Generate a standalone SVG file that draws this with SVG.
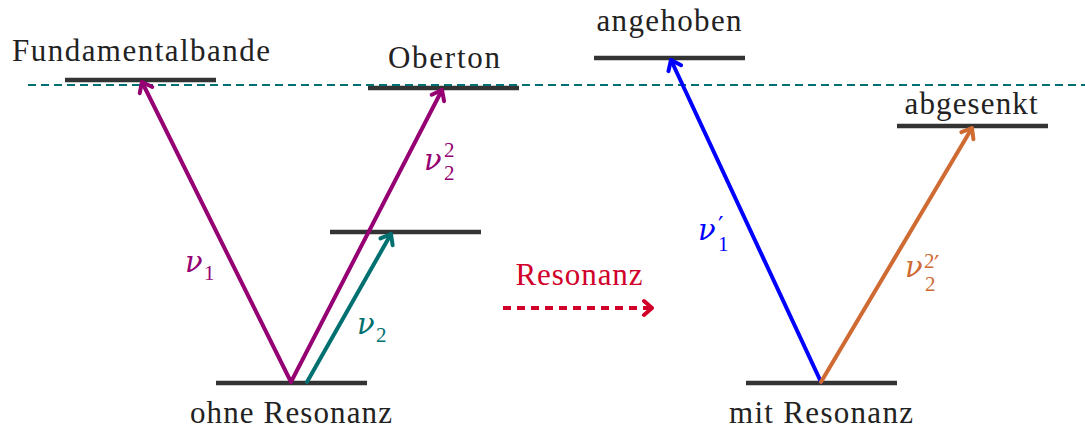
<svg xmlns="http://www.w3.org/2000/svg" width="1085" height="430" viewBox="0 0 1085 430">
<style>
.lvl{stroke:#333;stroke-width:4.5;fill:none}
text{font-family:'Liberation Serif',serif}
.lbl{font-size:31px;fill:#222;text-anchor:middle}
.m{font-family:'DejaVu Serif',serif;font-style:italic;font-size:29px}
.s{font-size:21px}
.p{font-family:'DejaVu Serif',serif;font-size:24px}
.arr{stroke-width:4;fill:none;stroke-linecap:round}
</style>
<defs>
<marker id="mP" markerUnits="userSpaceOnUse" viewBox="-12 -10 14 20" markerWidth="14" markerHeight="20" refX="0" refY="0" orient="auto"><path d="M-9,-7 L0,0 L-9,7" fill="none" stroke="#950072" stroke-width="4" stroke-linecap="round" stroke-linejoin="round"/></marker>
<marker id="mT" markerUnits="userSpaceOnUse" viewBox="-12 -10 14 20" markerWidth="14" markerHeight="20" refX="0" refY="0" orient="auto"><path d="M-9,-7 L0,0 L-9,7" fill="none" stroke="#007070" stroke-width="4" stroke-linecap="round" stroke-linejoin="round"/></marker>
<marker id="mB" markerUnits="userSpaceOnUse" viewBox="-12 -10 14 20" markerWidth="14" markerHeight="20" refX="0" refY="0" orient="auto"><path d="M-9,-7 L0,0 L-9,7" fill="none" stroke="#0000ff" stroke-width="4" stroke-linecap="round" stroke-linejoin="round"/></marker>
<marker id="mO" markerUnits="userSpaceOnUse" viewBox="-12 -10 14 20" markerWidth="14" markerHeight="20" refX="0" refY="0" orient="auto"><path d="M-9,-7 L0,0 L-9,7" fill="none" stroke="#cf6a32" stroke-width="4" stroke-linecap="round" stroke-linejoin="round"/></marker>
<marker id="mR" markerUnits="userSpaceOnUse" viewBox="-12 -10 14 20" markerWidth="14" markerHeight="20" refX="0" refY="0" orient="auto"><path d="M-8,-7 L0,0 L-8,7" fill="none" stroke="#d0002a" stroke-width="4" stroke-linecap="round" stroke-linejoin="round"/></marker>
</defs>
<rect width="1085" height="430" fill="#fff"/>

<g id="nodes">
<g id="fundamentalbande"><line class="lvl" x1="65" y1="80" x2="216" y2="80"/><text class="lbl" x="141" y="61" textLength="258">Fundamentalbande</text></g>
<g id="oberton"><line class="lvl" x1="368" y1="88" x2="519" y2="88"/><text class="lbl" x="444" y="68" textLength="112">Oberton</text></g>
<g id="mitte"><line class="lvl" x1="330" y1="232" x2="481" y2="232"/></g>
<g id="ohne"><line class="lvl" x1="216" y1="383" x2="367" y2="383"/><text class="lbl" x="291" y="423" textLength="202">ohne Resonanz</text></g>
<g id="angehoben"><line class="lvl" x1="594" y1="58" x2="745" y2="58"/><text class="lbl" x="669" y="31" textLength="145">angehoben</text></g>
<g id="abgesenkt"><line class="lvl" x1="897" y1="126" x2="1048" y2="126"/><text class="lbl" x="971" y="114" textLength="133">abgesenkt</text></g>
<g id="mit"><line class="lvl" x1="746" y1="383" x2="897" y2="383"/><text class="lbl" x="821" y="423" textLength="184">mit Resonanz</text></g>
</g>

<line x1="28" y1="85" x2="1085" y2="85" stroke="#007070" stroke-width="2" stroke-dasharray="8,5"/>

<g id="connectors">
<line class="arr" stroke="#950072" x1="291" y1="382" x2="142" y2="82" marker-end="url(#mP)"/>
<line class="arr" stroke="#950072" x1="291" y1="382" x2="442" y2="90" marker-end="url(#mP)"/>
<line class="arr" stroke="#007070" x1="307" y1="382" x2="391" y2="234" marker-end="url(#mT)"/>
<line class="arr" stroke="#0000ff" x1="821" y1="382" x2="671" y2="60" marker-end="url(#mB)"/>
<line class="arr" stroke="#cf6a32" x1="821" y1="382" x2="972" y2="128" marker-end="url(#mO)"/>
<line stroke="#d0002a" stroke-width="4" x1="503" y1="308" x2="652" y2="308" stroke-dasharray="8,6" marker-end="url(#mR)"/>
<text class="lbl" x="579" y="285" style="fill:#d0002a" textLength="127">Resonanz</text>
</g>

<g id="labels">
<text fill="#950072" x="185" y="272"><tspan class="m">ν</tspan><tspan class="s" x="204" y="280">1</tspan></text>
<text fill="#950072" x="424" y="170"><tspan class="m">ν</tspan><tspan class="s" x="444" y="157">2</tspan><tspan class="s" x="444" y="180">2</tspan></text>
<text fill="#007070" x="357" y="334"><tspan class="m">ν</tspan><tspan class="s" x="376" y="342">2</tspan></text>
<text fill="#0000ff" x="698" y="240"><tspan class="m">ν</tspan><tspan class="p" x="718" y="234">′</tspan><tspan class="s" x="718" y="251">1</tspan></text>
<text fill="#cf6a32" x="905" y="277"><tspan class="m">ν</tspan><tspan class="s" x="924" y="268">2</tspan><tspan class="p" x="934" y="273">′</tspan><tspan class="s" x="925" y="291">2</tspan></text>
</g>
</svg>
